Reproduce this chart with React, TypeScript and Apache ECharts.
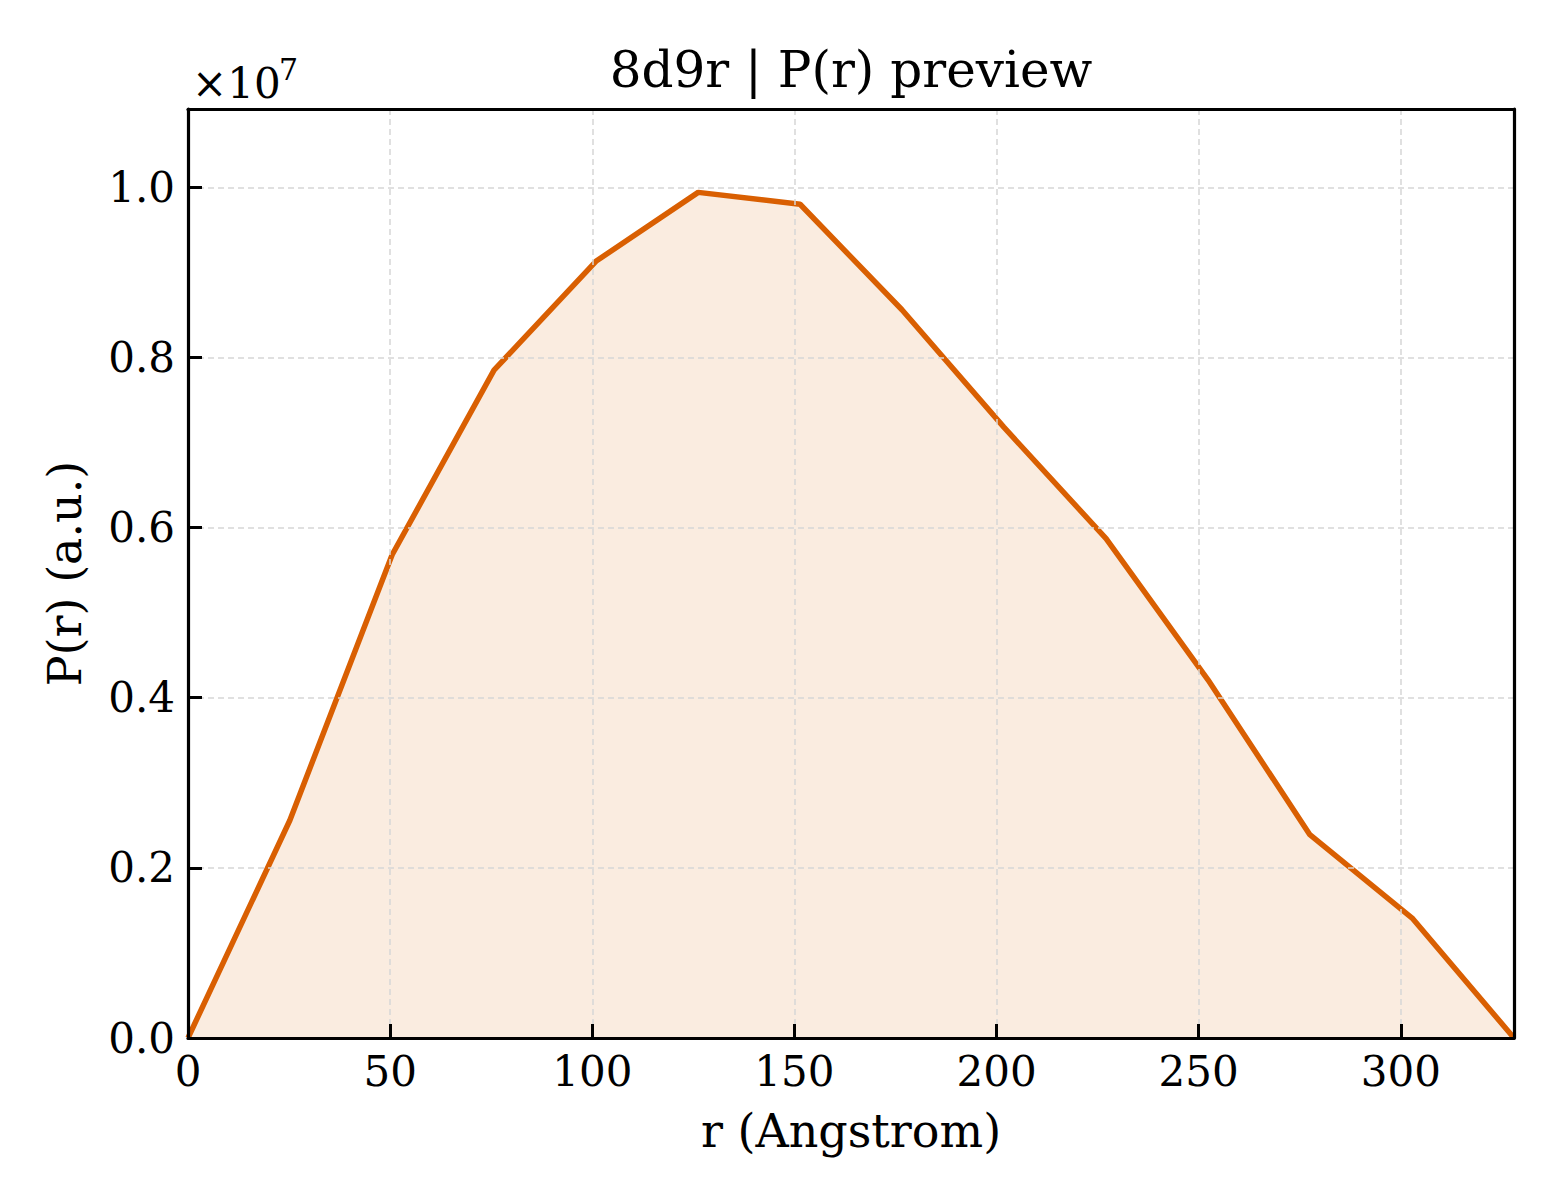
import React, { useEffect, useRef } from 'react';
import * as echarts from 'echarts';

// P(r) samples, r in Angstrom
const rValues = [0, 25.2, 50.5, 75.7, 100.9, 126.2, 151.4, 176.6, 201.8, 227.1, 252.3, 277.5, 302.8, 328.0];
const prValues = [0, 2.56e6, 5.68e6, 7.85e6, 9.13e6, 9.94e6, 9.8e6, 8.56e6, 7.18e6, 5.87e6, 4.21e6, 2.39e6, 1.41e6, 0];

const xTicks = [0, 50, 100, 150, 200, 250, 300];
const yTicks = [0, 0.2e7, 0.4e7, 0.6e7, 0.8e7, 1.0e7];

const FONT = 'DejaVu Serif';
const LINE_COLOR = '#d95f02';
const X_MAX = 328;
const Y_MAX = 1.092e7;

// top / right edges of the box, no ticks
const frameAxis = (position: string, max: number) => ({
  type: 'value',
  position,
  min: 0,
  max,
  axisLine: { show: true, onZero: false, lineStyle: { color: '#000', width: 3.2 } },
  axisTick: { show: false },
  axisLabel: { show: false },
  splitLine: { show: false },
  z: 6,
});

const App: React.FC = () => {
  const chartRef = useRef<HTMLDivElement>(null);

  useEffect(() => {
    if (!chartRef.current) return;
    const myChart = echarts.init(chartRef.current, undefined, { renderer: 'svg' });

    const option = {
      animation: false,
      backgroundColor: '#fff',
      textStyle: { fontFamily: FONT },
      title: {
        text: '8d9r | P(r) preview',
        left: 851,
        top: 45,
        padding: 0,
        textAlign: 'center',
        textStyle: { fontFamily: FONT, fontSize: 50, fontWeight: 'normal', color: '#000' },
      },
      grid: {
        left: 188,
        right: 46,
        top: 109,
        bottom: 162,
      },
      xAxis: [
        {
          type: 'value',
          min: 0,
          max: X_MAX,
          interval: 50,
          name: 'r (Angstrom)',
          nameLocation: 'middle',
          nameGap: 70,
          nameTextStyle: { fontFamily: FONT, fontSize: 46, color: '#000' },
          axisLine: { show: true, onZero: false, lineStyle: { color: '#000', width: 3.2 } },
          axisTick: { show: true, inside: true, length: 14, lineStyle: { color: '#000', width: 3 } },
          axisLabel: {
            fontFamily: FONT,
            fontSize: 42,
            color: '#000',
            margin: 12,
            formatter: (v: number) => (xTicks.includes(v) ? String(v) : ''),
          },
          splitLine: { show: true, lineStyle: { color: '#d6d6d6', width: 1.5, type: [6, 4] } },
          z: 5,
        },
        frameAxis('top', X_MAX),
      ],
      yAxis: [
        {
          type: 'value',
          min: 0,
          max: Y_MAX,
          interval: 0.2e7,
          name: 'P(r) (a.u.)',
          nameLocation: 'middle',
          nameGap: 100,
          nameTextStyle: { fontFamily: FONT, fontSize: 46, color: '#000' },
          axisLine: { show: true, onZero: false, lineStyle: { color: '#000', width: 3.2 } },
          axisTick: { show: true, inside: true, length: 14, lineStyle: { color: '#000', width: 3 } },
          axisLabel: {
            fontFamily: FONT,
            fontSize: 42,
            color: '#000',
            margin: 13,
            formatter: (v: number) =>
              yTicks.some((t) => Math.abs(t - v) < 1) ? (v / 1e7).toFixed(1) : '',
          },
          splitLine: { show: true, lineStyle: { color: '#d6d6d6', width: 1.5, type: [6, 4] } },
          z: 5,
        },
        frameAxis('right', Y_MAX),
      ],
      graphic: [
        {
          type: 'text',
          left: 192,
          top: 62,
          style: { text: '×10', fontFamily: FONT, fontSize: 42, fill: '#000' },
        },
        {
          type: 'text',
          left: 279,
          top: 54,
          style: { text: '7', fontFamily: FONT, fontSize: 30, fill: '#000' },
        },
      ],
      series: [
        {
          type: 'line',
          data: rValues.map((r, i) => [r, prValues[i]]),
          showSymbol: false,
          lineStyle: { color: LINE_COLOR, width: 5.5 },
          areaStyle: { color: LINE_COLOR, opacity: 0.12 },
          z: 3,
        },
      ],
    };

    myChart.setOption(option as any);

    return () => {
      myChart.dispose();
    };
  }, []);

  return (
    <div
      ref={chartRef}
      style={{ position: 'fixed', left: 0, top: 0, width: 1560, height: 1200 }}
    />
  );
};

export default App;
